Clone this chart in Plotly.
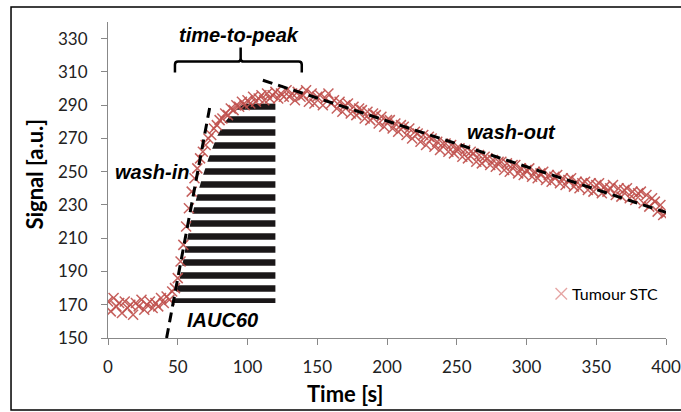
import plotly.graph_objects as go

# ---------------- data ----------------
time_s = list(range(0, 401, 2))
signal = [
    # 0-40
    172, 166, 174, 169, 171, 165, 172, 168, 170, 164, 171, 169, 173, 167, 170, 172, 168, 171, 169, 174, 171,
    # 42-140
    175, 173, 178, 180, 186, 196, 206, 217, 228, 238,
    246, 252, 258, 262, 266, 270, 272, 276, 278, 281,
    282, 285, 284, 288, 287, 290, 289, 292, 290, 293,
    291, 295, 292, 294, 296, 293, 297, 294, 296, 298,
    294, 297, 295, 299, 295, 297, 293, 298, 295, 296,
    # 142-400
    299, 292, 297, 291, 295, 296, 290, 294, 297, 291,
    293, 288, 292, 286, 290, 291, 285, 289, 284, 288,
    287, 282, 286, 281, 285, 284, 279, 283, 277, 281,
    281, 276, 279, 274, 278, 277, 272, 276, 270, 274,
    273, 268, 272, 266, 271, 270, 265, 268, 263, 267,
    267, 262, 266, 261, 264, 264, 259, 263, 258, 262,
    261, 256, 260, 255, 259, 258, 254, 257, 253, 256,
    256, 251, 255, 250, 254, 254, 249, 252, 248, 251,
    252, 247, 250, 246, 249, 250, 245, 248, 244, 247,
    248, 243, 246, 242, 245, 246, 241, 244, 240, 243,
    244, 239, 243, 238, 242, 243, 237, 241, 238, 240,
    242, 236, 240, 235, 239, 240, 234, 238, 233, 237,
    238, 231, 236, 229, 234, 232, 226, 230, 224, 225,
]

# IAUC60 hatched region boundary
iauc_t = [47, 52, 56, 60, 64, 67, 72, 78, 84, 90, 96, 100, 120, 120, 47]
iauc_sig = [171, 188, 206, 223, 236, 245, 258, 271, 280, 286, 290, 291, 291, 171, 171]

# fitted dashed lines
washin_t = [42, 73]
washin_sig = [150, 289]
washout_t = [111, 400]
washout_sig = [305, 225.5]

# time-to-peak bracket extent
ttp_start, ttp_mid, ttp_end = 48, 95.1, 138.9
br_low, br_mid, br_top = 309.6, 316.2, 324.6

x_ticks = list(range(0, 401, 50))
y_ticks = list(range(150, 331, 20))

# ---------------- figure ----------------
fig = go.Figure()

fig.add_trace(go.Scatter(
    x=iauc_t, y=iauc_sig, mode="lines", fill="toself",
    line=dict(width=0), fillcolor="white",
    fillpattern=dict(shape="-", fgcolor="#1A1718", bgcolor="white", fgopacity=1,
                     fillmode="replace", size=13, solidity=0.5),
    showlegend=False, hoverinfo="skip"))

fig.add_trace(go.Scatter(
    x=time_s, y=signal, mode="markers", name="Tumour STC",
    marker=dict(symbol="x-thin", size=10,
                line=dict(width=1.5, color="rgba(192,80,77,0.9)")),
    showlegend=False))

dash_style = dict(color="black", width=3, dash="10px,6px")
fig.add_trace(go.Scatter(x=washin_t, y=washin_sig, mode="lines", line=dash_style,
                         showlegend=False, hoverinfo="skip"))
fig.add_trace(go.Scatter(x=washout_t, y=washout_sig, mode="lines", line=dash_style,
                         showlegend=False, hoverinfo="skip"))

# bracket
rx, ry = 2.2, 1.9
path = (f"M {ttp_start},{br_low} L {ttp_start},{br_mid-ry} Q {ttp_start},{br_mid} {ttp_start+rx},{br_mid} "
        f"L {ttp_mid-rx},{br_mid} Q {ttp_mid},{br_mid} {ttp_mid},{br_mid+ry} L {ttp_mid},{br_top} "
        f"M {ttp_mid},{br_mid+ry} Q {ttp_mid},{br_mid} {ttp_mid+rx},{br_mid} "
        f"L {ttp_end-rx},{br_mid} Q {ttp_end},{br_mid} {ttp_end},{br_mid-ry} L {ttp_end},{br_low}")
shapes = [
    dict(type="path", path=path, xref="x", yref="y", line=dict(color="black", width=2.5)),
    # chart border
    dict(type="rect", xref="paper", yref="paper", x0=-0.1738, x1=1.03, y0=-0.2278, y1=1.0475,
         line=dict(color="black", width=1.5), layer="below"),
    # legend symbol
    dict(type="line", xref="paper", yref="paper", x0=0.802, x1=0.8226, y0=0.158, y1=0.1218,
         line=dict(color="#E5A3A2", width=1.3)),
    dict(type="line", xref="paper", yref="paper", x0=0.802, x1=0.8226, y0=0.1218, y1=0.158,
         line=dict(color="#E5A3A2", width=1.3)),
]

lab_font = dict(family="Liberation Sans, Arial", size=20, color="black")
title_font = dict(family="Lato", size=22, color="black")
annotations = [
    dict(x=93.9, y=332.4, text="<b><i>time-to-peak</i></b>", showarrow=False, font=lab_font),
    dict(x=31.2, y=249.6, text="<b><i>wash-in</i></b>", showarrow=False, font=lab_font),
    dict(x=288.9, y=273.8, text="<b><i>wash-out</i></b>", showarrow=False, font=lab_font),
    dict(x=82.4, y=160.8, text="<b><i>IAUC60</i></b>", showarrow=False, font=lab_font),
    dict(x=0.425, y=-0.177, xref="paper", yref="paper", text="<b>Time [s]</b>", showarrow=False,
         xanchor="center", yanchor="middle", font=title_font),
    dict(x=-0.131, y=0.52, xref="paper", yref="paper", text="<b>Signal [a.u.]</b>", showarrow=False,
         xanchor="center", yanchor="middle", textangle=-90, font=title_font),
    dict(x=0.828, y=0.1408, xref="paper", yref="paper", text="Tumour STC", showarrow=False,
         xanchor="left", yanchor="middle", font=dict(family="Lato", size=16, color="black")),
]

tick_font = dict(family="Lato", size=17, color="#222222")
fig.update_layout(
    width=681, height=412, autosize=False,
    margin=dict(l=108, r=15, t=22, b=74, autoexpand=False),
    paper_bgcolor="white", plot_bgcolor="white",
    shapes=shapes, annotations=annotations, showlegend=False,
    xaxis=dict(range=[0, 400], tickvals=x_ticks, ticks="outside", ticklen=6, tickcolor="#888888",
               showline=True, linecolor="#888888", linewidth=1, showgrid=False, zeroline=False,
               tickfont=tick_font, ticklabelstandoff=8, automargin=False),
    yaxis=dict(range=[150, 340], tickvals=y_ticks, ticks="outside", ticklen=6, tickcolor="#888888",
               showline=True, linecolor="#888888", linewidth=1, showgrid=False, zeroline=False,
               tickfont=tick_font, ticklabelstandoff=10, automargin=False),
)

fig.write_html("out.html", config={"displayModeBar": False},
               post_script="document.body.style.margin='0';")
